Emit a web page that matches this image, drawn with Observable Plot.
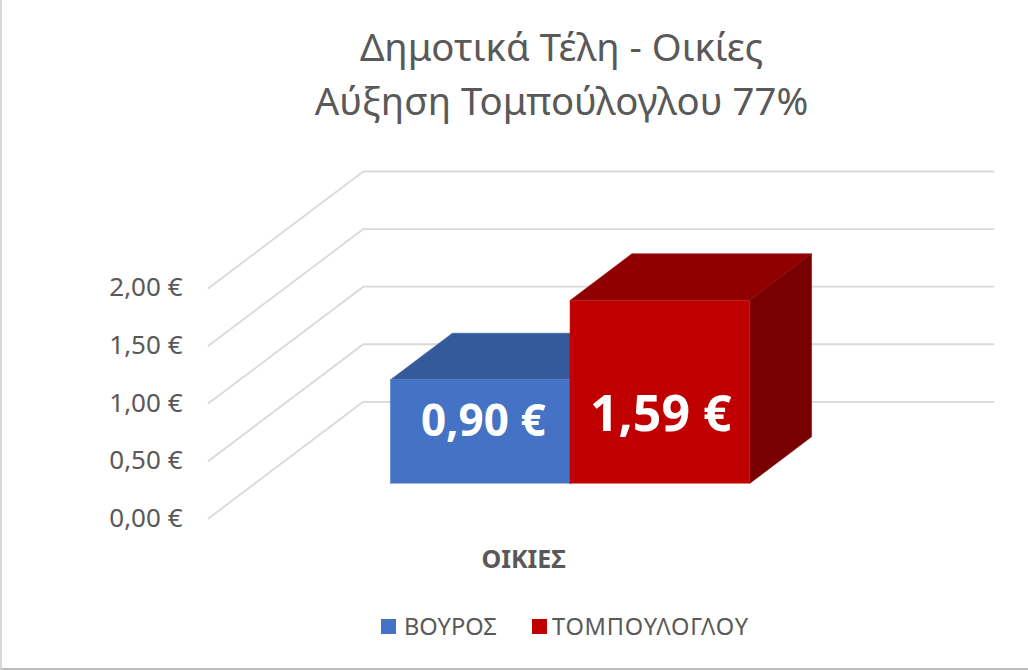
<!DOCTYPE html>
<html><head><meta charset="utf-8">
<script src="https://cdn.jsdelivr.net/npm/d3@7"></script>
<script src="https://cdn.jsdelivr.net/npm/@observablehq/plot@0.6"></script>
<style>
html,body{margin:0;padding:0;background:#fff;overflow:hidden}
#page{position:relative;width:1028px;height:670px;box-sizing:border-box;border-left:2px solid #d9d9d9;border-bottom:2px solid #bdbdbd;font-family:"Noto Sans",sans-serif;color:#595959}
#title{position:absolute;left:-2px;top:0;width:1123px;height:140px;padding-top:19px;box-sizing:border-box;text-align:center;font-size:38.3px;line-height:54px}
#chart{position:absolute;left:-2px;top:140px}
#legend{position:absolute;top:610px;left:0;height:32px;font-size:23.6px;line-height:32px}
#legend span{position:absolute;white-space:nowrap}
#legend i{position:absolute;width:15px;height:15px;top:9px}
svg{display:block;overflow:visible}
</style></head><body>
<div id="page">
<div id="title"></div>
<div id="chart"></div>
<div id="legend"></div>
</div>
<script>
const titleLines = ["Δημοτικά Τέλη - Οικίες", "Αύξηση Τομπούλογλου 77%"];
const category = "ΟΙΚΙΕΣ";
const seriesNames = ["ΒΟΥΡΟΣ", "ΤΟΜΠΟΥΛΟΓΛΟΥ"];
const seriesValues = [0.90, 1.59];
const frontColors = ["#4472C4", "#C00000"];
const topColors = ["#355A9C", "#900000"];
const sideColors = ["#2A4778", "#780000"];
const tickValues = [0, 0.5, 1, 1.5, 2];

const euro = v => v.toFixed(2).replace(".", ",") + " €";

// Oblique projection of the 3-D chart box: depth d runs 0 (front) to 1 (back wall)
const depthX = 155 / 631, depthY = 1.013;
const px = (c, d) => c + d * depthX;
const py = (v, d) => v + d * depthY;
const pt = (c, v, d) => ({x: px(c, d), y: py(v, d)});

const barEdges = [0.215, 0.5, 0.785];
const depthFront = 0.3, depthBack = 0.7;

const faceMark = (points, fill) => Plot.line(points, {x: "x", y: "y", fill, stroke: fill, strokeWidth: 0.5, curve: "linear"});

const grid = tickValues.map(v => Plot.line(
  [pt(0, v, 0), pt(0, v, 1), pt(1, v, 1)],
  {x: "x", y: "y", stroke: "#d9d9d9", strokeWidth: 1.8}));

const bars = seriesValues.flatMap((v, i) => {
  const a = barEdges[i], b = barEdges[i + 1];
  return [
    faceMark([pt(b, 0, depthFront), pt(b, 0, depthBack), pt(b, v, depthBack), pt(b, v, depthFront)], sideColors[i]),
    faceMark([pt(a, v, depthFront), pt(a, v, depthBack), pt(b, v, depthBack), pt(b, v, depthFront)], topColors[i]),
    faceMark([pt(a, 0, depthFront), pt(a, v, depthFront), pt(b, v, depthFront), pt(b, 0, depthFront)], frontColors[i])
  ];
});

const labelSizes = [44, 50], labelShiftY = [-10, 23], labelShiftX = [3, 1];
const labels = seriesValues.map((v, i) => Plot.text([v], {
  x: () => px((barEdges[i] + barEdges[i + 1]) / 2, depthFront),
  y: d => py(d / 2, depthFront),
  text: d => euro(d),
  fill: "white", fontWeight: 700, fontSize: labelSizes[i], dx: labelShiftX[i], dy: labelShiftY[i],
  fontFamily: "Noto Sans"
}));

const chart = Plot.plot({
  width: 1028, height: 450,
  marginLeft: 208, marginRight: 35, marginTop: 31, marginBottom: 72,
  x: {domain: [0, 1 + depthX], axis: null},
  y: {domain: [0, 2 + depthY], axis: null},
  style: {fontFamily: "Noto Sans", background: "transparent"},
  marks: [
    ...grid,
    Plot.axisY(tickValues, {
      anchor: "left", tickSize: 0, tickPadding: 26, fontSize: 26, fill: "#595959",
      tickFormat: euro, label: null
    }),
    ...bars,
    ...labels,
    Plot.text([category], {
      x: () => 0.5, y: () => 0, text: d => d, dy: 41,
      fontSize: 25, fontWeight: 700, fill: "#595959"
    })
  ]
});
document.getElementById("chart").append(chart);

document.getElementById("title").innerHTML = titleLines.join("<br>");
const legend = document.getElementById("legend");
const swatchX = [379, 530], textX = [402, 550], legendSpacing = [0, 0.75];
seriesNames.forEach((n, i) => {
  const sw = document.createElement("i");
  sw.style.left = swatchX[i] + "px"; sw.style.background = frontColors[i];
  const t = document.createElement("span");
  t.style.left = textX[i] + "px"; t.style.letterSpacing = legendSpacing[i] + "px"; t.textContent = n;
  legend.append(sw, t);
});
</script>
</body></html>
